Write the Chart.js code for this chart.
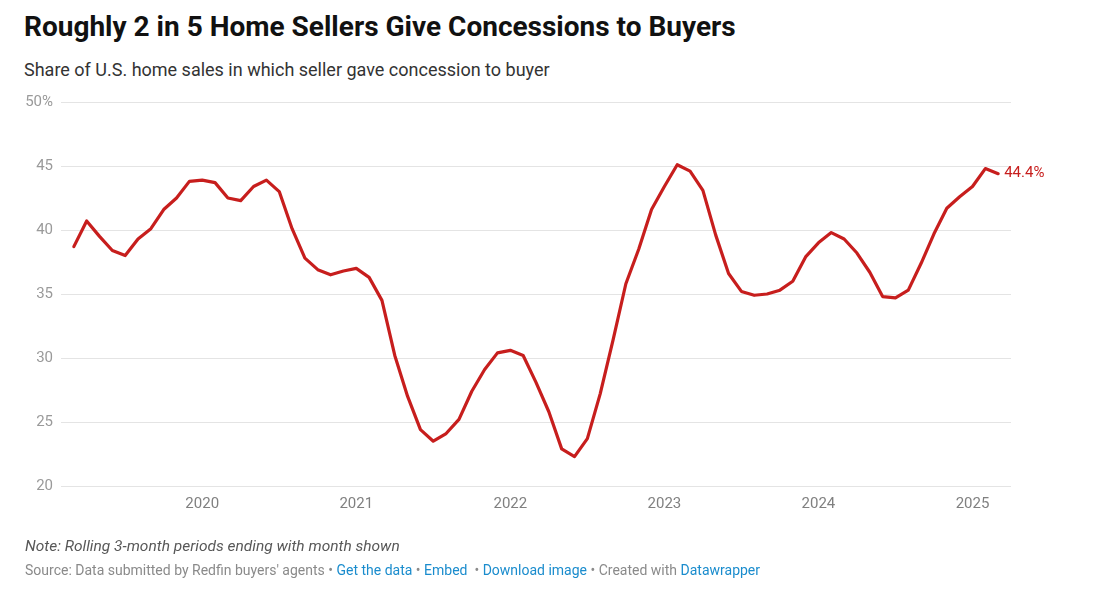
<!DOCTYPE html>
<html>
<head>
<meta charset="utf-8">
<script src="https://cdn.jsdelivr.net/npm/chart.js@4/dist/chart.umd.min.js"></script>
<style>
  html, body { margin: 0; padding: 0; background: #fff; }
  body { width: 1100px; height: 590px; position: relative; overflow: hidden; font-family: Roboto, "Noto Sans", sans-serif; }
  #chart { position: absolute; left: 0; top: 0; }
  .txt { position: absolute; left: 25px; white-space: nowrap; line-height: 1; }
  #title { top: 13px; left: 24px; font-size: 28px; font-weight: 700; color: #111; }
  #subtitle { top: 61px; left: 24px; font-size: 18px; color: #333; }
  #note { top: 539px; font-size: 15.5px; font-style: italic; color: #585858; }
  #source { top: 563px; font-size: 14px; color: #8a8a8a; }
  #source a { color: #1a8ccd; text-decoration: none; }
</style>
</head>
<body>
<div class="txt" id="title">Roughly 2 in 5 Home Sellers Give Concessions to Buyers</div>
<div class="txt" id="subtitle">Share of U.S. home sales in which seller gave concession to buyer</div>
<canvas id="chart" width="1100" height="590"></canvas>
<div class="txt" id="note">Note: Rolling 3-month periods ending with month shown</div>
<div class="txt" id="source">Source: Data submitted by Redfin buyers' agents • <a>Get the data</a> • <a>Embed</a> &nbsp;• <a>Download image</a> • Created with <a>Datawrapper</a></div>

<script>
// first month of the series is March 2019, one value per month
const startYear = 2019;
const startMonth = 3;

const shares2019 = [38.7, 40.7, 39.5, 38.4, 38.0, 39.3, 40.1, 41.6, 42.5, 43.8];
const shares2020 = [43.9, 43.7, 42.5, 42.3, 43.4, 43.9, 43.0, 40.1, 37.8, 36.9, 36.5, 36.8];
const shares2021 = [37.0, 36.3, 34.5, 30.2, 27.0, 24.4, 23.5, 24.1, 25.2, 27.4, 29.1, 30.4];
const shares2022 = [30.6, 30.2, 28.1, 25.8, 22.9, 22.3, 23.7, 27.2, 31.4, 35.8, 38.5, 41.6];
const shares2023 = [43.4, 45.1, 44.6, 43.1, 39.6, 36.6, 35.2, 34.9, 35.0, 35.3, 36.0, 37.9];
const shares2024 = [39.0, 39.8, 39.3, 38.2, 36.7, 34.8, 34.7, 35.3, 37.4, 39.7, 41.7, 42.6];
const shares2025 = [43.4, 44.8, 44.4];

const yearTicks = [2020, 2021, 2022, 2023, 2024, 2025];
const yTicks = [20, 25, 30, 35, 40, 45, 50];

const shares = [].concat(shares2019, shares2020, shares2021, shares2022, shares2023, shares2024, shares2025);
const points = shares.map((v, i) => {
  const m = startMonth - 1 + i;
  return { x: startYear + m / 12, y: v };
});
const last = points[points.length - 1];

const red = '#c71e1d';

const endLabel = {
  id: 'endLabel',
  afterDatasetsDraw(chart) {
    const { ctx, scales } = chart;
    const px = scales.x.getPixelForValue(last.x);
    const py = scales.y.getPixelForValue(last.y);
    ctx.save();
    ctx.font = '15px Roboto, sans-serif';
    ctx.fillStyle = red;
    ctx.textAlign = 'left';
    ctx.textBaseline = 'middle';
    ctx.fillText(last.y.toFixed(1) + '%', px + 6, py);
    ctx.restore();
  }
};

new Chart(document.getElementById('chart'), {
  type: 'line',
  data: {
    datasets: [{
      data: points,
      borderColor: red,
      borderWidth: 3.2,
      pointRadius: 0,
      tension: 0,
      borderJoinStyle: 'round',
      borderCapStyle: 'round'
    }]
  },
  options: {
    responsive: false,
    animation: false,
    layout: { padding: { left: 0, top: 102, right: 89, bottom: 70 } },
    plugins: { legend: { display: false }, tooltip: { enabled: false } },
    scales: {
      x: {
        type: 'linear',
        min: startYear + (startMonth - 2) / 12,
        max: last.x + 1 / 12,
        afterBuildTicks: s => { s.ticks = yearTicks.map(v => ({ value: v })); },
        afterFit: s => { s.height = 34; },
        grid: { display: false, drawTicks: false },
        border: { display: false },
        ticks: {
          autoSkip: false,
          maxRotation: 0,
          padding: 9,
          color: '#808080',
          font: { family: 'Roboto', size: 15 },
          callback: v => String(v)
        }
      },
      y: {
        min: 20,
        max: 50,
        afterBuildTicks: s => { s.ticks = yTicks.map(v => ({ value: v })); },
        afterFit: s => { s.width = 61; },
        grid: { color: '#e4e4e4', lineWidth: 1, drawTicks: false },
        border: { display: false },
        ticks: {
          padding: 8,
          color: '#9a9a9a',
          font: { family: 'Roboto', size: 15 },
          callback: v => v === 50 ? v + '%' : String(v)
        }
      }
    }
  },
  plugins: [endLabel]
});
</script>
</body>
</html>
